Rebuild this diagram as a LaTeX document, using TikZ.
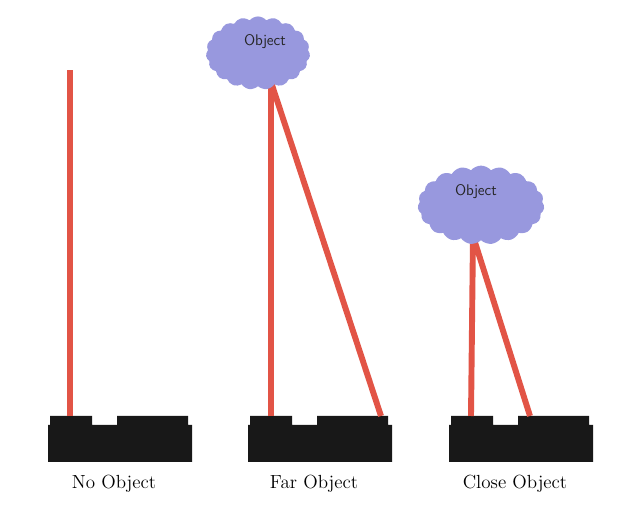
\documentclass[tikz,border=0pt]{standalone}
\usepackage{tikz}
\usetikzlibrary{shapes.symbols}
\definecolor{beamred}{RGB}{226,84,70}
\definecolor{cloudblue}{RGB}{152,152,222}
\definecolor{sensorblack}{RGB}{24,24,24}

\begin{document}
\begin{tikzpicture}[x=0.025cm, y=-0.025cm,
  beam/.style={line width=4.2pt, color=beamred},
  sensor/.style={fill=sensorblack},
  obj/.style={cloud, cloud puffs=19, cloud puff arc=100,
              fill=cloudblue, draw=none},
  objtext/.style={font=\sffamily\fontsize{11}{13}\selectfont, text=black!85},
  caption/.style={font=\fontsize{13.5}{15}\selectfont}
]
\useasboundingbox[fill=white] (0,0) rectangle (620,511);

% sensor housings and captions
\foreach \x/\i/\txt in {0/1/No Object, 200/2/Far Object, 401/3/Close Object}{
  \fill[sensor] (\x+48,425) -- (\x+50,425) -- (\x+50,416) -- (\x+92,416)
    -- (\x+92,425) -- (\x+117,425) -- (\x+117,416) -- (\x+188,416)
    -- (\x+188,425) -- (\x+192,425) -- (\x+192,462) -- (\x+48,462) -- cycle;
  \node[caption] (cap\i) at (\x+114,484) {\txt};
}

% beam end points
\coordinate (tx1)  at (70,416);
\coordinate (top1) at (70,70);
\coordinate (tx2)  at (271,416);
\coordinate (rx2)  at (381,416);
\coordinate (hit2) at (271,82);
\coordinate (tx3)  at (471,416);
\coordinate (rx3)  at (530,416);
\coordinate (hit3) at (473,236);

\draw[beam] (tx1) -- (top1);
\draw[beam] (tx2) -- (hit2) -- (rx2);
\draw[beam] (tx3) -- (hit3) -- (rx3);

% objects
\node[obj, minimum width=74, minimum height=52] (far) at (258,53) {};
\node[objtext] (farlbl) at (265,42) {Object};
\node[obj, minimum width=90, minimum height=56] (close) at (481,205) {};
\node[objtext] (closelbl) at (476,192) {Object};
\end{tikzpicture}
\end{document}
